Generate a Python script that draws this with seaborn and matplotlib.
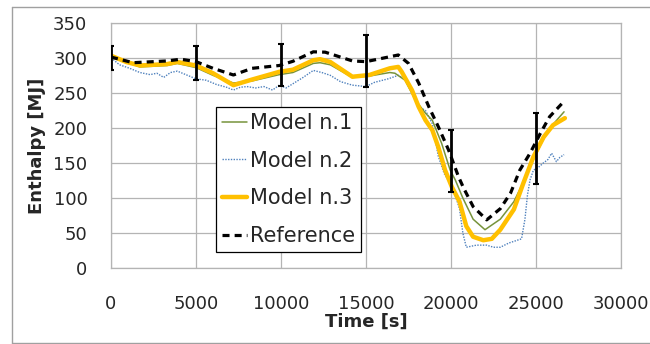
import matplotlib
matplotlib.use("Agg")
import matplotlib.pyplot as plt
import seaborn as sns
import pandas as pd
from matplotlib.lines import Line2D

# ---------------- data ----------------
t_m1 = [0, 1700, 3300, 3900, 5000, 6000, 7200, 8300, 9900, 10700, 11900, 12300, 12900, 14200,
        15200, 16400, 16700, 17300, 17900, 18500, 18900, 19450, 19950, 20250, 20700, 21300,
        22000, 22900, 23700, 24300, 24850, 25450, 26000, 26650]
v_m1 = [302, 287, 289, 292, 286, 275, 264, 267, 276, 279, 292, 293, 290, 272,
        274, 279, 278, 268, 240, 221, 211, 178, 140, 126, 100, 70,
        55, 70, 95, 125, 155, 185, 205, 223]

t_m2 = [0, 500, 1100, 1700, 2300, 2700, 3100, 3500, 3900, 4400, 5000, 5600, 6200, 6800, 7200,
        7600, 8000, 8500, 9000, 9500, 9900, 10300, 10700, 11300, 11900, 12400, 12900, 13500,
        14200, 15000, 15500, 16300, 16900, 17400, 17800, 18100, 18500, 18900, 19250, 19600,
        20100, 20500, 20700, 20900, 21500, 22100, 22500, 22900, 23400, 23900, 24150, 24350,
        24500, 24650, 24850, 25100, 25430, 25700, 25920, 26200, 26400, 26650]
v_m2 = [300, 290, 285, 279, 276, 278, 272, 279, 281, 276, 270, 268, 262, 258, 254,
        258, 259, 257, 259, 254, 261, 257, 263, 272, 282, 279, 275, 266,
        261, 259, 265, 270, 275, 268, 250, 230, 225, 206, 160, 135,
        115, 85, 50, 30, 33, 33, 30, 30, 36, 40, 42, 70,
        105, 126, 140, 143, 150, 155, 164, 152, 158, 162]

t_m3 = [0, 900, 1700, 3300, 3900, 5000, 6000, 7200, 8300, 9900, 10700, 11900, 12300, 12900,
        14200, 15200, 16400, 16900, 17100, 17700, 18100, 18500, 18900, 19250, 19650, 20050,
        20500, 20900, 21300, 21900, 22400, 22900, 23700, 24250, 24850, 25450, 26000, 26700]
v_m3 = [303, 294, 289, 291, 294, 289, 278, 261, 269, 280, 283, 296.5, 298, 294,
        273, 275.5, 285, 287, 280, 254, 230, 211, 197, 173, 140, 116,
        95, 60, 45, 40, 42, 55, 84, 121, 159, 187, 204, 214]

t_ref = [0, 1300, 3300, 4100, 5000, 6000, 7200, 8300, 9900, 10700, 11900, 12600, 14200, 15000,
         16300, 16900, 17500, 18100, 18700, 19250, 19850, 20450, 20750, 21300, 22100, 22900,
         23500, 24050, 24650, 25250, 25800, 26650]
v_ref = [301, 293, 295.5, 298, 294.5, 285, 275.5, 285, 289, 295, 308.5, 308, 295.5, 294.5,
         301, 304, 292, 264, 230, 202, 169, 130, 114, 88, 69, 85,
         107, 140, 164, 192, 216, 238]

err_t = [0, 5000, 10000, 15000, 20000, 25000]
err_c = [300, 293, 290, 295, 153, 171]
err_e = [17, 24, 30, 37, 44, 51]

x_ticks = [0, 5000, 10000, 15000, 20000, 25000, 30000]
y_ticks = [0, 50, 100, 150, 200, 250, 300, 350]
labels = ["Model n.1", "Model n.2", "Model n.3", "Reference"]

# ---------------- style ----------------
sns.set_style("white")
plt.rcParams["font.family"] = ["DejaVu Sans"]

fig = plt.figure(figsize=(6.5, 3.44), dpi=100)
ax = fig.add_axes([111 / 650, 1 - 268.3 / 344, (621 - 111) / 650, (268.3 - 22.7) / 344])

grid_c = "#b4b4b4"

df1 = pd.DataFrame({"t": t_m1, "v": v_m1})
df2 = pd.DataFrame({"t": t_m2, "v": v_m2})
df3 = pd.DataFrame({"t": t_m3, "v": v_m3})
dfr = pd.DataFrame({"t": t_ref, "v": v_ref})

sns.lineplot(data=df2, x="t", y="v", ax=ax, color="#4F81BD", lw=1.0,
             linestyle=(0, (1, 1)), label=labels[1], zorder=3)
sns.lineplot(data=df1, x="t", y="v", ax=ax, color="#77933C", lw=1.1,
             label=labels[0], zorder=4)
sns.lineplot(data=df3, x="t", y="v", ax=ax, color="#FFC000", lw=3.2,
             label=labels[2], zorder=5)
sns.lineplot(data=dfr, x="t", y="v", ax=ax, color="black", lw=2.3,
             linestyle=(0, (2.2, 1.6)), label=labels[3], zorder=6)
ax.errorbar(err_t, err_c, yerr=err_e, fmt="none", ecolor="black", elinewidth=2.0,
            capsize=2.5, capthick=1.5, zorder=7)

ax.set_xlim(0, 30000)
ax.set_ylim(0, 350)
ax.set_xticks(x_ticks)
ax.set_yticks(y_ticks)
ax.grid(True, color=grid_c, lw=0.9)
ax.set_axisbelow(True)
for s in ax.spines.values():
    s.set_color(grid_c)
    s.set_linewidth(0.9)
ax.tick_params(axis="both", which="both", length=6, width=0.9, color=grid_c,
               labelsize=13, direction="out")
ax.tick_params(axis="y", pad=11)
ax.tick_params(axis="x", pad=13)
ax.set_xlabel("Time [s]", fontsize=13, fontweight="bold", labelpad=0)
ax.set_ylabel("Enthalpy [MJ]", fontsize=13, fontweight="bold", labelpad=5)

# legend
handles, lbls = ax.get_legend_handles_labels()
order = [lbls.index(l) for l in labels]
leg = ax.legend([handles[i] for i in order], [lbls[i] for i in order],
                loc="upper left", bbox_to_anchor=(0.205, 0.658), fontsize=15,
                frameon=True, fancybox=False, framealpha=1, edgecolor="black",
                borderpad=0.3, labelspacing=0.85, handlelength=1.2, handletextpad=0.15,
                borderaxespad=0)
leg.get_frame().set_linewidth(0.9)

# figure border
bc = "#a0a0a0"
fig.add_artist(Line2D([11.5 / 650, 11.5 / 650], [1 - 343 / 344, 1 - 7 / 344],
                      transform=fig.transFigure, color=bc, lw=1.0))
fig.add_artist(Line2D([11.5 / 650, 1.0], [1 - 7 / 344, 1 - 7 / 344],
                      transform=fig.transFigure, color=bc, lw=1.0))
fig.add_artist(Line2D([11.5 / 650, 1.0], [1 - 342.5 / 344, 1 - 342.5 / 344],
                      transform=fig.transFigure, color=bc, lw=1.0))

fig.savefig("out.png", dpi=100)
